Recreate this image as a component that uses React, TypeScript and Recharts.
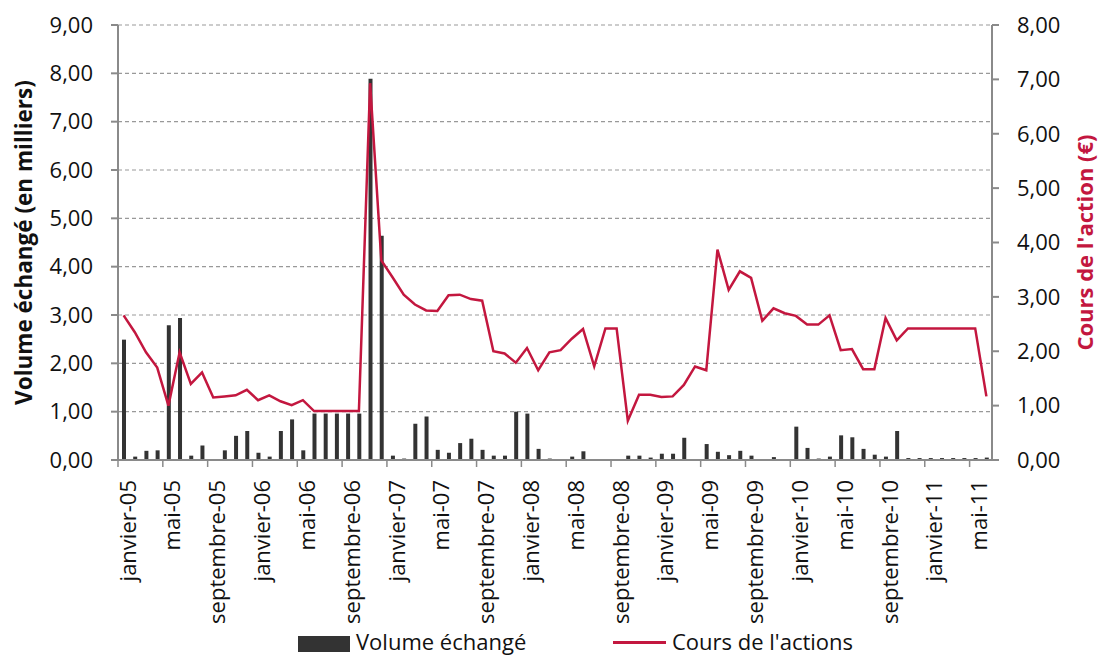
import React from 'react';
import { ComposedChart, Bar, Line, XAxis, YAxis, CartesianGrid, Legend, Label } from 'recharts';

const MONTH_LABELS = [
  'janvier-05','février-05','mars-05','avril-05','mai-05','juin-05','juillet-05','août-05','septembre-05','octobre-05','novembre-05','décembre-05',
  'janvier-06','février-06','mars-06','avril-06','mai-06','juin-06','juillet-06','août-06','septembre-06','octobre-06','novembre-06','décembre-06',
  'janvier-07','février-07','mars-07','avril-07','mai-07','juin-07','juillet-07','août-07','septembre-07','octobre-07','novembre-07','décembre-07',
  'janvier-08','février-08','mars-08','avril-08','mai-08','juin-08','juillet-08','août-08','septembre-08','octobre-08','novembre-08','décembre-08',
  'janvier-09','février-09','mars-09','avril-09','mai-09','juin-09','juillet-09','août-09','septembre-09','octobre-09','novembre-09','décembre-09',
  'janvier-10','février-10','mars-10','avril-10','mai-10','juin-10','juillet-10','août-10','septembre-10','octobre-10','novembre-10','décembre-10',
  'janvier-11','février-11','mars-11','avril-11','mai-11','juin-11',
];

const VOLUME = [
  2.49, 0.07, 0.19, 0.20, 2.79, 2.94, 0.09, 0.30, 0.02, 0.20, 0.50, 0.60,
  0.15, 0.07, 0.60, 0.84, 0.20, 0.96, 0.96, 0.96, 0.96, 0.96, 7.89, 4.64,
  0.09, 0.03, 0.75, 0.90, 0.21, 0.15, 0.35, 0.44, 0.21, 0.09, 0.09, 1.00,
  0.96, 0.23, 0.03, 0.01, 0.07, 0.18, 0.00, 0.00, 0.01, 0.09, 0.09, 0.05,
  0.13, 0.13, 0.46, 0.00, 0.33, 0.17, 0.10, 0.19, 0.09, 0.00, 0.06, 0.01,
  0.69, 0.25, 0.03, 0.07, 0.51, 0.47, 0.23, 0.11, 0.07, 0.60, 0.04, 0.04,
  0.04, 0.04, 0.04, 0.04, 0.04, 0.05,
];

const COURS = [
  2.66, 2.35, 1.98, 1.70, 1.00, 1.98, 1.40, 1.61, 1.15, 1.17, 1.19, 1.29,
  1.10, 1.19, 1.08, 1.01, 1.10, 0.90, 0.90, 0.90, 0.90, 0.90, 6.93, 3.67,
  3.36, 3.04, 2.86, 2.75, 2.74, 3.03, 3.04, 2.96, 2.93, 2.00, 1.96, 1.79,
  2.06, 1.65, 1.98, 2.02, 2.23, 2.41, 1.72, 2.42, 2.42, 0.72, 1.20, 1.20,
  1.16, 1.17, 1.38, 1.72, 1.65, 3.87, 3.13, 3.47, 3.35, 2.56, 2.79, 2.70,
  2.65, 2.49, 2.49, 2.66, 2.02, 2.04, 1.67, 1.67, 2.61, 2.20, 2.42, 2.42,
  2.42, 2.42, 2.42, 2.42, 2.42, 1.17,
];

const LEFT_TICKS = [0, 1, 2, 3, 4, 5, 6, 7, 8, 9];
const RIGHT_TICKS = [0, 1, 2, 3, 4, 5, 6, 7, 8];

const data = MONTH_LABELS.map((m, i) => ({ month: m, volume: VOLUME[i], cours: COURS[i] }));

const W = 1102;
const H = 657;
const LEFT_W = 118;
const RIGHT_W = 110;
const TOP = 25;
const XAXIS_H = 197;
const BAND = (W - LEFT_W - RIGHT_W) / MONTH_LABELS.length;
const FONT = '"Open Sans", Lato, sans-serif';
const RED = '#C3173F';
const BAR = '#333333';
const AXIS = '#8a8a8a';

const fmt = (v: number) => v.toFixed(2).replace('.', ',');

const XTick = (props: any) => {
  const { x, y, payload } = props;
  const tx = x - BAND / 2;
  const ly = y + 20;
  return (
    <g>
      <line x1={tx} x2={tx} y1={y} y2={y + 7} stroke={AXIS} strokeWidth={1.5} />
      <text
        x={x + 3}
        y={ly}
        transform={`rotate(-90, ${x + 3}, ${ly})`}
        textAnchor="end"
        dominantBaseline="central"
        fontSize={22}
        fontFamily={FONT}
        fill="#111"
      >
        {payload.value}
      </text>
    </g>
  );
};

const LegendContent = () => (
  <div style={{ position: 'relative', width: W, height: 25, fontFamily: FONT, fontSize: 22, color: '#111' }}>
    <div style={{ position: 'absolute', left: 298, top: 9, width: 52, height: 16, background: BAR }} />
    <div style={{ position: 'absolute', left: 356, top: 0, lineHeight: '28px', whiteSpace: 'nowrap' }}>Volume échangé</div>
    <div style={{ position: 'absolute', left: 613, top: 14, width: 53, height: 2.5, background: RED }} />
    <div style={{ position: 'absolute', left: 672, top: 0, lineHeight: '28px', whiteSpace: 'nowrap' }}>Cours de l'actions</div>
  </div>
);

export default function App() {
  return (
    <div style={{ position: 'absolute', left: 0, top: 0, width: W, height: H, background: '#fff', overflow: 'hidden' }}>
      <ComposedChart width={W} height={H} data={data} margin={{ top: TOP, right: 0, bottom: 0, left: 0 }}>
        <CartesianGrid yAxisId="left" vertical={false} stroke="#999" strokeDasharray="4 3" strokeWidth={1.2} />
        <XAxis
          dataKey="month"
          interval={3}
          height={XAXIS_H}
          tickSize={0}
          tickMargin={0}
          tickLine={false}
          axisLine={{ stroke: AXIS, strokeWidth: 2 }}
          tick={<XTick />}
        />
        <YAxis
          yAxisId="left"
          orientation="left"
          width={LEFT_W}
          domain={[0, 9]}
          ticks={LEFT_TICKS}
          interval={0}
          tickFormatter={fmt}
          tickSize={7}
          tickMargin={18}
          axisLine={{ stroke: AXIS, strokeWidth: 2 }}
          tickLine={{ stroke: AXIS, strokeWidth: 2 }}
          tick={{ fontSize: 22, fontFamily: FONT, fill: '#111' }}
        >
          <Label
            value="Volume échangé (en milliers)"
            angle={-90}
            position="center"
            dx={-35}
            style={{ fontSize: 22.5, fontWeight: 700, fontFamily: FONT, fill: '#111', textAnchor: 'middle' }}
          />
        </YAxis>
        <YAxis
          yAxisId="right"
          orientation="right"
          width={RIGHT_W}
          domain={[0, 8]}
          ticks={RIGHT_TICKS}
          interval={0}
          tickFormatter={fmt}
          tickSize={7}
          tickMargin={18}
          axisLine={{ stroke: AXIS, strokeWidth: 2 }}
          tickLine={{ stroke: AXIS, strokeWidth: 2 }}
          tick={{ fontSize: 22, fontFamily: FONT, fill: '#111' }}
        >
          <Label
            value="Cours de l'action (€)"
            angle={-90}
            position="center"
            dx={38}
            style={{ fontSize: 22, fontWeight: 700, fontFamily: FONT, fill: RED, textAnchor: 'middle' }}
          />
        </YAxis>
        <Bar yAxisId="left" dataKey="volume" name="Volume échangé" fill={BAR} barSize={4} isAnimationActive={false} />
        <Line
          yAxisId="right"
          dataKey="cours"
          name="Cours de l'actions"
          type="linear"
          stroke={RED}
          strokeWidth={2.5}
          dot={false}
          activeDot={false}
          isAnimationActive={false}
        />
        <Legend
          layout="horizontal"
          verticalAlign="middle"
          align="center"
          wrapperStyle={{ top: 627, left: 0, width: W, height: 28 }}
          content={<LegendContent />}
        />
      </ComposedChart>
    </div>
  );
}
